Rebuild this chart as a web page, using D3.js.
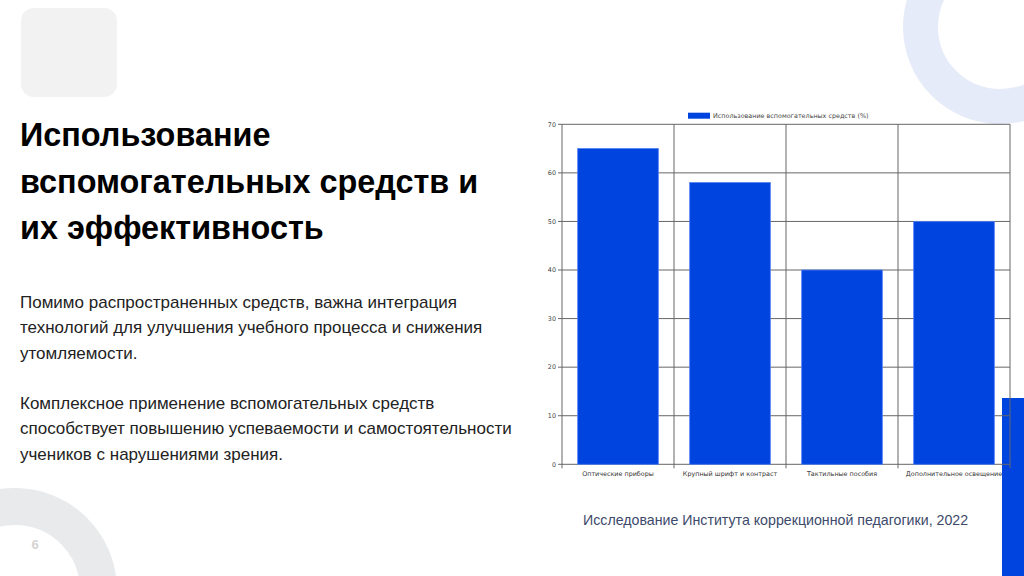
<!DOCTYPE html>
<html>
<head>
<meta charset="utf-8">
<script src="https://cdn.jsdelivr.net/npm/d3@7"></script>
<style>
  html, body { margin: 0; padding: 0; background: #fff; }
  svg { display: block; }
  .sans { font-family: "Liberation Sans", Arial, sans-serif; }
  .small { font-family: "DejaVu Sans", sans-serif; }
</style>
</head>
<body>
<div id="slide"></div>
<script>
// chart data
var categories = ["Оптические приборы", "Крупный шрифт и контраст", "Тактильные пособия", "Дополнительное освещение"];
var usage = [65, 58, 40, 50];
var yTicks = [0, 10, 20, 30, 40, 50, 60, 70];
var seriesName = "Использование вспомогательных средств (%)";

var titleLines = ["Использование", "вспомогательных средств и", "их эффективность"];
var paragraph1 = ["Помимо распространенных средств, важна интеграция", "технологий для улучшения учебного процесса и снижения", "утомляемости."];
var paragraph2 = ["Комплексное применение вспомогательных средств", "способствует повышению успеваемости и самостоятельности", "учеников с нарушениями зрения."];
var sourceText = "Исследование Института коррекционной педагогики, 2022";

var width = 1024,
    height = 576;

var svg = d3.select("#slide")
    .append("svg")
    .attr("width", width)
    .attr("height", height);

// decorations
svg.append("rect")
    .attr("x", 21).attr("y", 8)
    .attr("width", 96).attr("height", 89)
    .attr("rx", 13)
    .attr("fill", "#f2f2f2");

svg.append("circle")
    .attr("cx", 1000).attr("cy", 27)
    .attr("r", 79.5)
    .attr("fill", "none")
    .attr("stroke", "#e6ebf9")
    .attr("stroke-width", 35);

svg.append("circle")
    .attr("cx", 15).attr("cy", 590)
    .attr("r", 83.5)
    .attr("fill", "none")
    .attr("stroke", "#e8eaec")
    .attr("stroke-width", 37);

svg.append("text")
    .attr("class", "sans")
    .attr("x", 35).attr("y", 549)
    .attr("text-anchor", "middle")
    .attr("font-weight", "bold")
    .attr("font-size", 13)
    .attr("fill", "#d4d4d4")
    .text("6");

svg.append("rect")
    .attr("x", 1002).attr("y", 398)
    .attr("width", 22).attr("height", 178)
    .attr("fill", "#0044e0");

// title and text
svg.append("g")
    .selectAll("text")
    .data(titleLines)
    .enter()
    .append("text")
    .attr("class", "sans")
    .attr("x", 20)
    .attr("y", function(d, i) { return 146 + i * 46.5; })
    .attr("font-weight", "bold")
    .attr("font-size", 32.4)
    .attr("fill", "#000")
    .text(function(d) { return d; });

function addParagraph(lines, y0) {
    svg.append("g")
        .selectAll("text")
        .data(lines)
        .enter()
        .append("text")
        .attr("class", "sans")
        .attr("x", 20)
        .attr("y", function(d, i) { return y0 + i * 25.5; })
        .attr("font-size", 17)
        .attr("fill", "#222")
        .text(function(d) { return d; });
}
addParagraph(paragraph1, 307.5);
addParagraph(paragraph2, 408.5);

svg.append("text")
    .attr("class", "sans")
    .attr("x", 583).attr("y", 525)
    .attr("font-size", 14.2)
    .attr("fill", "#3d4a6b")
    .text(sourceText);

// the chart
var plot = { left: 562, top: 124.3, right: 1010, bottom: 464.3 };

var xScale = d3.scaleBand()
    .domain(categories)
    .range([plot.left, plot.right])
    .paddingInner(0.28)
    .paddingOuter(0.14);

var xBounds = d3.scaleBand()
    .domain(categories)
    .range([plot.left, plot.right]);

var yScale = d3.scaleLinear()
    .domain([0, 70])
    .range([plot.bottom, plot.top]);

var chart = svg.append("g").attr("class", "chart");

// horizontal grid
chart.append("g")
    .selectAll("line")
    .data(yTicks)
    .enter()
    .append("line")
    .attr("x1", plot.left - 4)
    .attr("x2", plot.right)
    .attr("y1", function(d) { return yScale(d); })
    .attr("y2", function(d) { return yScale(d); })
    .attr("stroke", "#666")
    .attr("stroke-width", 1);

// vertical grid at category boundaries
var bounds = categories.map(function(c) { return xBounds(c); }).concat([plot.right]);
chart.append("g")
    .selectAll("line")
    .data(bounds)
    .enter()
    .append("line")
    .attr("x1", function(d) { return d; })
    .attr("x2", function(d) { return d; })
    .attr("y1", plot.top)
    .attr("y2", plot.bottom + 4)
    .attr("stroke", "#666")
    .attr("stroke-width", 1);

// bars
chart.append("g")
    .selectAll("rect")
    .data(usage)
    .enter()
    .append("rect")
    .attr("x", function(d, i) { return xScale(categories[i]); })
    .attr("y", function(d) { return yScale(d); })
    .attr("width", xScale.bandwidth())
    .attr("height", function(d) { return plot.bottom - yScale(d); })
    .attr("fill", "#0044e0")
    .attr("stroke", "#4f7ef0")
    .attr("stroke-width", 0.8);

// axis labels
chart.append("g")
    .selectAll("text")
    .data(yTicks)
    .enter()
    .append("text")
    .attr("class", "small")
    .attr("x", plot.left - 6)
    .attr("y", function(d) { return yScale(d) + 2.3; })
    .attr("text-anchor", "end")
    .attr("font-size", 6.4)
    .attr("fill", "#444")
    .text(function(d) { return d; });

chart.append("g")
    .selectAll("text")
    .data(categories)
    .enter()
    .append("text")
    .attr("class", "small")
    .attr("x", function(d) { return xBounds(d) + xBounds.bandwidth() / 2; })
    .attr("y", plot.bottom + 12)
    .attr("text-anchor", "middle")
    .attr("font-size", 6.4)
    .attr("fill", "#333")
    .text(function(d) { return d; });

// legend
var legend = chart.append("g");
legend.append("rect")
    .attr("x", 688).attr("y", 112.7)
    .attr("width", 22).attr("height", 6)
    .attr("fill", "#0044e0");
legend.append("text")
    .attr("class", "small")
    .attr("x", 713).attr("y", 118)
    .attr("font-size", 6.4)
    .attr("fill", "#444")
    .text(seriesName);
</script>
</body>
</html>
